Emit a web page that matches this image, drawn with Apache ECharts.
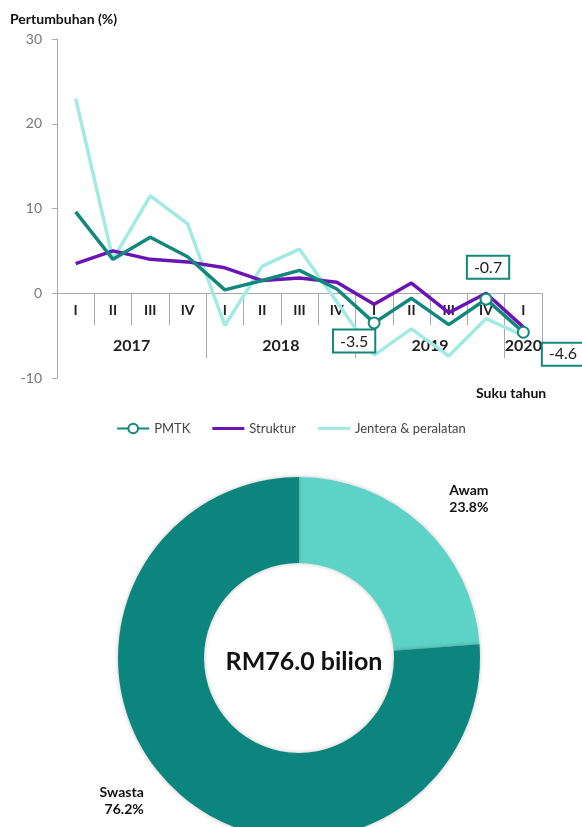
<!DOCTYPE html>
<html>
<head>
<meta charset="utf-8">
<script src="https://cdn.jsdelivr.net/npm/echarts@6/dist/echarts.min.js"></script>
<style>
  html, body { margin: 0; padding: 0; background: #fff; }
  #chart { width: 582px; height: 827px; }
</style>
</head>
<body>
<div id="chart"></div>
<script>
// quarters and years
const quarters = ['I','II','III','IV','I','II','III','IV','I','II','III','IV','I'];
const years = ['2017','2018','2019','2020'];
const quartersPerYear = [4, 4, 4, 1];

// growth (%) by quarter
const pmtk = [9.6, 4.0, 6.6, 4.3, 0.4, 1.5, 2.7, 0.5, -3.5, -0.6, -3.7, -0.7, -4.6];
const struktur = [3.5, 5.0, 4.0, 3.7, 3.0, 1.5, 1.8, 1.3, -1.3, 1.2, -2.3, 0.0, -4.0];
const jentera = [23.0, 4.0, 11.5, 8.2, -3.8, 3.2, 5.2, -1.0, -7.3, -4.2, -7.4, -3.0, -5.0];
const yTicks = [-10, 0, 10, 20, 30];

// share of investment
const pieNames = ['Awam', 'Swasta'];
const pieValues = [23.8, 76.2];
const totalText = 'RM76.0 bilion';

// points of PMTK that get a marker and a boxed label
const labelled = {
  8: { position: 'bottom', offset: [-20, -4] },
  11: { position: 'top', offset: [2, -10] },
  12: { position: 'right', offset: [8, 22] }
};

// year boundaries and centres on a 0..13 scale
let yearEdges = [], yearMids = [], acc = 0;
quartersPerYear.forEach(function (n) {
  yearMids.push(acc + n / 2);
  acc += n;
  yearEdges.push(acc);
});

const teal = '#12877c';
const purple = '#6a14b4';
const light = '#a2eae4';
const font = 'Lato';

const gridTop = 39, gridHeight = 339;
const yMin = yTicks[0], yMax = yTicks[yTicks.length - 1];
// move the bottom x axes up to the zero line
const zeroOffset = -(0 - yMin) / (yMax - yMin) * gridHeight;

const pmtkData = pmtk.map(function (v, i) {
  const lab = labelled[i];
  if (!lab) return { value: v, symbol: 'none' };
  return {
    value: v,
    symbol: 'emptyCircle',
    symbolSize: 11,
    label: {
      show: true,
      position: lab.position,
      offset: lab.offset,
      formatter: function (p) { return p.value.toFixed(1); },
      color: '#222',
      fontFamily: font,
      fontSize: 16,
      backgroundColor: '#fff',
      borderColor: teal,
      borderWidth: 2,
      padding: [3, 6, 2, 6]
    }
  };
});

const lineIcon = 'path://M0,0 L32,0 L32,3 L0,3 Z';

const chart = echarts.init(document.getElementById('chart'));
chart.setOption({
  animation: false,
  textStyle: { fontFamily: font },
  title: [
    { text: 'Pertumbuhan (%)', left: 5, top: 7,
      textStyle: { fontSize: 14, fontWeight: 'bold', color: '#111', fontFamily: font } },
    { text: 'Suku tahun', left: 471, top: 381,
      textStyle: { fontSize: 14, fontWeight: 'bold', color: '#111', fontFamily: font } },
    { text: totalText, left: 299, top: 644, textAlign: 'center',
      textStyle: { fontSize: 25, fontWeight: 'bold', color: '#111', fontFamily: font } }
  ],
  legend: {
    top: 417,
    left: 'center',
    itemWidth: 32,
    itemHeight: 12,
    itemGap: 22,
    data: [
      { name: 'PMTK' },
      { name: 'Struktur', icon: lineIcon },
      { name: 'Jentera & peralatan', icon: lineIcon }
    ],
    textStyle: { color: '#444', fontSize: 13, fontFamily: font }
  },
  grid: {
    left: 57, top: gridTop, width: 485, height: gridHeight,
    outerBoundsMode: 'none'
  },
  xAxis: [
    {
      type: 'category',
      data: quarters,
      boundaryGap: true,
      position: 'bottom',
      offset: zeroOffset,
      axisLine: { onZero: false, lineStyle: { color: '#aaa', width: 1 } },
      axisTick: { show: true, interval: 0, length: 32, alignWithLabel: false, lineStyle: { color: '#aaa' } },
      axisLabel: { interval: 0, margin: 10, color: '#222', fontWeight: 'bold', fontSize: 14, fontFamily: font },
      splitLine: { show: false }
    },
    {
      type: 'value',
      min: 0,
      max: quarters.length,
      position: 'bottom',
      offset: zeroOffset,
      axisLine: { show: false, onZero: false },
      axisTick: { show: true, customValues: yearEdges, length: 65, lineStyle: { color: '#aaa' } },
      axisLabel: {
        customValues: yearMids,
        margin: 45,
        color: '#222',
        fontWeight: 'bold',
        fontSize: 16,
        fontFamily: font,
        formatter: function (v) { return years[yearMids.indexOf(v)]; }
      },
      splitLine: { show: false }
    }
  ],
  yAxis: {
    type: 'value',
    min: yMin,
    max: yMax,
    interval: 10,
    axisLine: { show: true, lineStyle: { color: '#aaa' } },
    axisTick: { show: true, length: 5, lineStyle: { color: '#aaa' } },
    axisLabel: { color: '#777', fontSize: 14, margin: 15, fontFamily: font },
    splitLine: { show: false }
  },
  series: [
    {
      name: 'Jentera & peralatan', type: 'line', data: jentera, symbol: 'none',
      lineStyle: { color: light, width: 3.5 }, itemStyle: { color: light }, z: 2
    },
    {
      name: 'Struktur', type: 'line', data: struktur, symbol: 'none',
      lineStyle: { color: purple, width: 3.5 }, itemStyle: { color: purple }, z: 3
    },
    {
      name: 'PMTK', type: 'line', data: pmtkData, symbol: 'emptyCircle', symbolSize: 11,
      lineStyle: { color: teal, width: 3.5 }, itemStyle: { color: teal, borderWidth: 3 }, z: 4
    },
    {
      type: 'pie',
      center: [299, 658],
      radius: [95, 181],
      startAngle: 90,
      clockwise: true,
      silent: true,
      data: pieNames.map(function (n, i) { return { name: n, value: pieValues[i] }; }),
      color: ['#5dd3c8', '#0b857e'],
      itemStyle: { shadowBlur: 4, shadowColor: 'rgba(0,0,0,0.25)' },
      label: {
        show: true,
        position: 'outside',
        formatter: '{b}\n{c}%',
        color: '#111',
        fontSize: 14,
        fontWeight: 'bold',
        lineHeight: 17,
        align: 'center',
        fontFamily: font
      },
      labelLine: { show: false, length: 40, length2: 10 },
      labelLayout: function (p) {
        return p.dataIndex === 1 ? { dx: 10, dy: -19 } : { dx: -15, dy: 3 };
      }
    }
  ]
});
</script>
</body>
</html>
